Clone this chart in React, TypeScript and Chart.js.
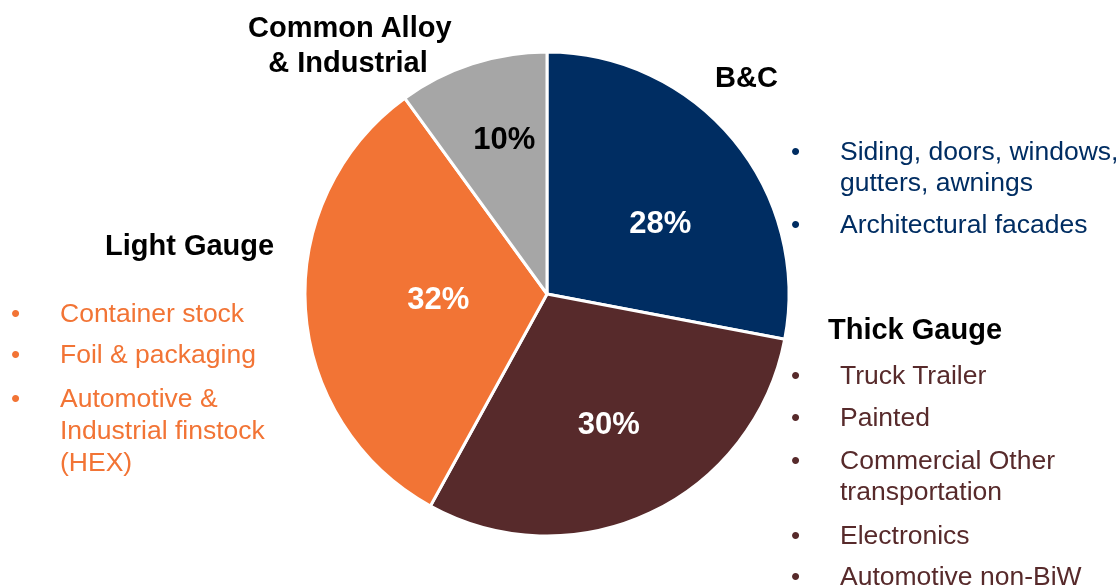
import React, { useEffect, useRef } from "react";
import { Chart, registerables } from "chart.js";

Chart.register(...registerables);

const categories = ["B&C", "Thick Gauge", "Light Gauge", "Common Alloy & Industrial"];
const shares = [28, 30, 32, 10];
const sliceColors = ["#002D62", "#572A2B", "#F27435", "#A6A6A6"];
const percentColors = ["#FFFFFF", "#FFFFFF", "#FFFFFF", "#000000"];
const labelRadiusFactor = [0.55, 0.6, 0.45, 0.66];
const labelAngleShiftDeg = [8, 0, 0, 2.5];

const bcItems = [["Siding, doors, windows,", "gutters, awnings"], ["Architectural facades"]];
const thickItems = [
  ["Truck Trailer"],
  ["Painted"],
  ["Commercial Other", "transportation"],
  ["Electronics"],
  ["Automotive non-BiW"],
];
const lightItems = [["Container stock"], ["Foil & packaging"], ["Automotive &", "Industrial finstock", "(HEX)"]];

const FONT = "'Liberation Sans', Arial, sans-serif";

const percentPlugin = {
  id: "percentLabels",
  afterDatasetsDraw(chart: any) {
    const ctx = chart.ctx;
    const meta = chart.getDatasetMeta(0);
    ctx.save();
    ctx.font = `bold 31px ${FONT}`;
    ctx.textAlign = "center";
    ctx.textBaseline = "middle";
    meta.data.forEach((arc: any, i: number) => {
      const { x, y, startAngle, endAngle, outerRadius } = arc.getProps(
        ["x", "y", "startAngle", "endAngle", "outerRadius"],
        true
      );
      const mid = (startAngle + endAngle) / 2 + (labelAngleShiftDeg[i] * Math.PI) / 180;
      const r = outerRadius * labelRadiusFactor[i];
      ctx.fillStyle = percentColors[i];
      ctx.fillText(`${shares[i]}%`, x + Math.cos(mid) * r, y + Math.sin(mid) * r);
    });
    ctx.restore();
  },
};

function BulletList({
  items,
  left,
  baselines,
  color,
  bulletX,
}: {
  items: string[][];
  left: number;
  baselines: number[][];
  color: string;
  bulletX: number;
}) {
  const out: React.ReactNode[] = [];
  items.forEach((lines, i) => {
    lines.forEach((line, j) => {
      const top = baselines[i][j] - 25;
      if (j === 0) {
        out.push(
          <div
            key={`b${i}`}
            style={{
              position: "absolute",
              left: bulletX - 6,
              top,
              font: `26px ${FONT}`,
              lineHeight: "32px",
              color,
              whiteSpace: "nowrap",
            }}
          >
            •
          </div>
        );
      }
      out.push(
        <div
          key={`t${i}-${j}`}
          style={{
            position: "absolute",
            left,
            top,
            font: `26.5px ${FONT}`,
            lineHeight: "32px",
            color,
            whiteSpace: "nowrap",
          }}
        >
          {line}
        </div>
      );
    });
  });
  return <>{out}</>;
}

const headingStyle = (left: number, baseline: number): React.CSSProperties => ({
  position: "absolute",
  left,
  top: baseline - 28,
  font: `bold 29px ${FONT}`,
  lineHeight: "36px",
  color: "#000",
  whiteSpace: "nowrap",
});

export default function App() {
  const canvasRef = useRef<HTMLCanvasElement>(null);

  useEffect(() => {
    document.body.style.margin = "0";
    const chart = new Chart(canvasRef.current!, {
      type: "pie",
      data: {
        labels: categories,
        datasets: [
          {
            data: shares,
            backgroundColor: sliceColors,
            borderColor: "#FFFFFF",
            borderWidth: 3,
          },
        ],
      },
      options: {
        responsive: false,
        animation: false,
        radius: 242,
        layout: { padding: { left: 0, right: 25, top: 1, bottom: 0 } },
        plugins: {
          legend: { display: false },
          tooltip: { enabled: false },
        },
      } as any,
      plugins: [percentPlugin],
    });
    return () => chart.destroy();
  }, []);

  return (
    <div style={{ position: "absolute", left: 0, top: 0, width: 1119, height: 587, overflow: "hidden", background: "#fff" }}>
      <canvas ref={canvasRef} width={1119} height={587} style={{ position: "absolute", left: 0, top: 0 }} />
      <div style={{ ...headingStyle(248, 37), width: 200, textAlign: "center" }}>Common Alloy</div>
      <div style={{ ...headingStyle(248, 72), width: 200, textAlign: "center" }}>& Industrial</div>
      <div style={headingStyle(715, 87)}>B&C</div>
      <div style={headingStyle(828, 339)}>Thick Gauge</div>
      <div style={headingStyle(105, 255)}>Light Gauge</div>
      <BulletList items={bcItems} left={840} bulletX={797} baselines={[[160, 191], [233]]} color="#002D62" />
      <BulletList
        items={thickItems}
        left={840}
        bulletX={797}
        baselines={[[384], [426], [469, 500], [544], [585]]}
        color="#572A2B"
      />
      <BulletList items={lightItems} left={60} bulletX={17} baselines={[[322], [363], [407, 439, 471]]} color="#F27435" />
    </div>
  );
}
